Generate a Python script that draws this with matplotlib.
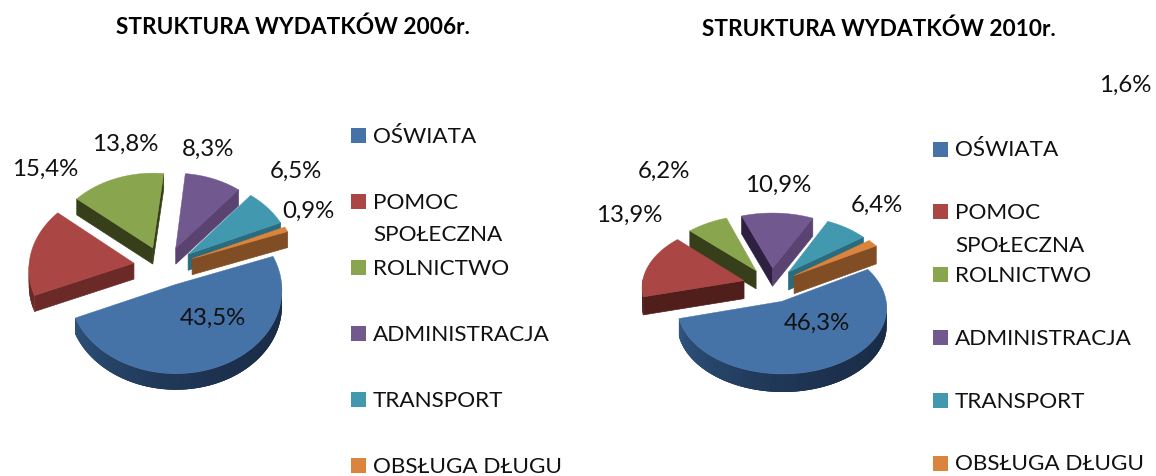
import numpy as np
import matplotlib
matplotlib.use('Agg')
import matplotlib.pyplot as plt
from matplotlib.colors import to_rgb
from matplotlib.patches import Rectangle

categories = ['OŚWIATA', 'POMOC\nSPOŁECZNA', 'ROLNICTWO', 'ADMINISTRACJA', 'TRANSPORT', 'OBSŁUGA DŁUGU']
values_2006 = [43.5, 15.4, 13.8, 8.3, 6.5, 0.9]
values_2010 = [46.3, 13.9, 6.2, 10.9, 6.4, 1.6]

top_colors = ['#4572a7', '#aa4643', '#89a54e', '#71588f', '#4198af', '#db843d']
rim_left_2006 = ['#35608f', '#6b2a28', '#363f1a', '#2d2040', '#2a6b7d', '#804d24']
rim_left_2010 = ['#35608f', '#501f1c', '#363f1a', '#2d2040', '#2a6b7d', '#804d24']
rim_right = ['#1a2c47', '#6b2a28', '#363f1a', '#5a4370', '#2a6b7d', '#804d24']

plt.rcParams['font.family'] = ['Lato', 'DejaVu Sans']


def project(u, v, geo):
    """Unit disc coordinates to pixels, the front of the disc a bit larger."""
    s = 1 + geo['k'] * v
    return geo['cx'] + geo['rx'] * u * s, geo['cy'] + geo['ry'] * v * s


def draw_pie(ax, values, geo, rim_left):
    """Draw an exploded pie with a fake 3D look on a pixel axes."""
    total = sum(values)
    spans = np.cumsum([0] + [val / total * 360 for val in values]) + geo['start']
    slices = [(spans[i], spans[i + 1], i) for i in range(len(values))]
    slices.sort(key=lambda s: np.sin(np.radians((s[0] + s[1]) / 2)))

    for t0, t1, i in slices:
        mid = np.radians((t0 + t1) / 2)
        ou, ov = geo['ex'] * np.cos(mid), geo['ey'] * np.sin(mid)
        ts = np.radians(np.linspace(t0, t1, 80))
        x, y = project(ou + np.cos(ts), ov + np.sin(ts), geo)
        ax_x, ax_y = project(ou, ov, geo)
        d = geo['depth']

        # cut faces
        if np.cos(ts[0]) < 0:
            ax.fill([ax_x, x[0], x[0], ax_x], [ax_y, y[0], y[0] + d, ax_y + d],
                    color=rim_left[i], lw=0.5)
        if np.cos(ts[-1]) > 0:
            ax.fill([ax_x, x[-1], x[-1], ax_x], [ax_y, y[-1], y[-1] + d, ax_y + d],
                    color=rim_right[i], lw=0.5)

        # outer rim, small overlapping quads so that it can shade without seams
        for j in range(len(ts) - 1):
            if np.sin(ts[j]) < 0 and np.sin(ts[j + 1]) < 0:
                continue
            k = min(j + 3, len(ts) - 1)
            xs = x[j:k + 1]
            ys = y[j:k + 1]
            angle = np.degrees(ts[j]) % 360
            frac = min(angle, 180) / 180
            c = np.array(to_rgb(rim_right[i])) * (1 - frac ** 2.2) + np.array(to_rgb(rim_left[i])) * frac ** 2.2
            ax.fill(np.r_[xs, xs[::-1]], np.r_[ys, ys[::-1] + d], color=c, lw=0)

        ax.fill(np.r_[ax_x, x], np.r_[ax_y, y], color=top_colors[i], lw=0.3)


def draw_legend(ax, x, y0, step, line_gap):
    for i, name in enumerate(categories):
        y = y0 + i * step
        ax.add_patch(Rectangle((x, y - 7.5), 15, 15, color=top_colors[i], lw=0))
        for j, line in enumerate(name.split('\n')):
            ax.text(x + 22, y + 7.5 + j * line_gap, line, fontsize=16.2, ha='left', va='baseline', color='#111111')


fig = plt.figure(figsize=(11.56, 4.76), dpi=100)
ax = fig.add_axes([0, 0, 1, 1])
ax.set_xlim(0, 1156)
ax.set_ylim(476, 0)
ax.axis('off')

geo_2006 = dict(cx=164, cy=266, rx=105, ry=82, k=0.06, ex=0.29, ey=0.24, depth=16, start=-20)
geo_2010 = dict(cx=771, cy=285, rx=102, ry=64, k=0.09, ex=0.275, ey=0.27, depth=18, start=-30)
draw_pie(ax, values_2006, geo_2006, rim_left_2006)
draw_pie(ax, values_2010, geo_2010, rim_left_2010)

pos_2006 = [(213, 318), (45, 169), (125, 144), (208, 149), (296, 171), (308, 211)]
pos_2010 = [(817, 323), (629, 215), (664, 171), (778, 185), (877, 205), (1125, 85)]
for values, positions in ((values_2006, pos_2006), (values_2010, pos_2010)):
    for val, (x, y) in zip(values, positions):
        ax.text(x, y, f'{val:.1f}%'.replace('.', ','), fontsize=17.3, ha='center', va='center',
                color='#111111', zorder=5)

draw_legend(ax, 351, 135.5, 66, 32)
draw_legend(ax, 933, 149, 62.8, 33)

ax.text(293, 27, 'STRUKTURA WYDATKÓW 2006r.', fontsize=16.3, fontweight='bold', ha='center', va='center')
ax.text(879, 29, 'STRUKTURA WYDATKÓW 2010r.', fontsize=16.3, fontweight='bold', ha='center', va='center')

fig.savefig('out.png', dpi=100)
